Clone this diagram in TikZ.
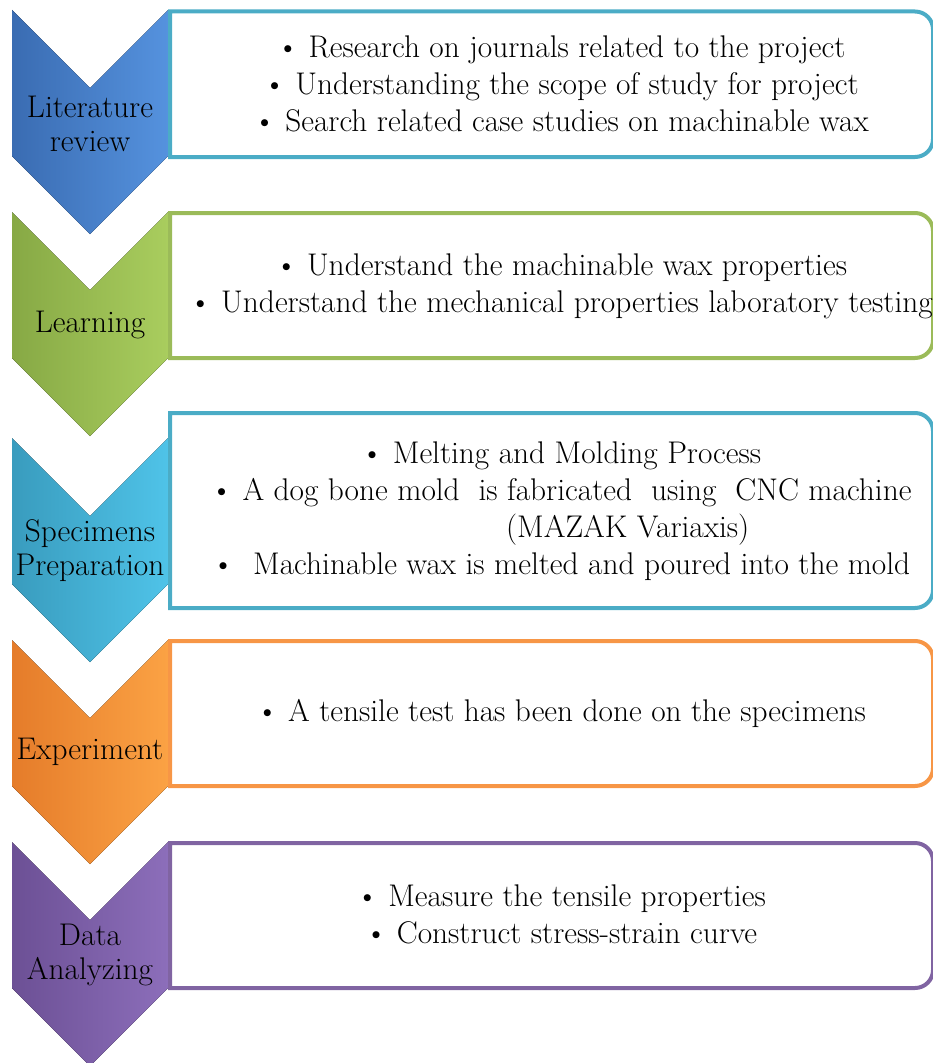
\documentclass[tikz,border=0pt]{standalone}
\usepackage{fontspec}
\usepackage{tikz}
\usetikzlibrary{positioning}

\definecolor{litL}{HTML}{3A6CB2}
\definecolor{litR}{HTML}{5592DE}
\definecolor{lrnL}{HTML}{87A945}
\definecolor{lrnR}{HTML}{A9CD5E}
\definecolor{speL}{HTML}{399CBE}
\definecolor{speR}{HTML}{4FC3E8}
\definecolor{expL}{HTML}{E57C2A}
\definecolor{expR}{HTML}{FBA244}
\definecolor{datL}{HTML}{6C5095}
\definecolor{datR}{HTML}{8C6EBA}
\definecolor{tealline}{HTML}{4BACC6}
\definecolor{greenline}{HTML}{9BBB59}
\definecolor{orangeline}{HTML}{F79646}
\definecolor{purpleline}{HTML}{8064A2}

\begin{document}
\begin{tikzpicture}[
  x=0.75pt, y=-0.75pt,
  chev/.style={draw=none},
  frame/.style={line width=3pt},
  stagename/.style={font=\fontsize{23.5}{25.5}\selectfont, align=center, text=black},
  items/.style={font=\fontsize{23.5}{27.75}\selectfont, align=center, text=black}
]
\useasboundingbox (0,0) rectangle (932,1063);

% chevrons
\fill[chev, left color=litL, right color=litR]
  (12,10) -- (90,88) -- (168,10) -- (168,156) -- (90,234) -- (12,156) -- cycle;
\fill[chev, left color=lrnL, right color=lrnR]
  (12,212) -- (90,290) -- (168,212) -- (168,358) -- (90,436) -- (12,358) -- cycle;
\fill[chev, left color=speL, right color=speR]
  (12,438) -- (90,516) -- (168,438) -- (168,584) -- (90,662) -- (12,584) -- cycle;
\fill[chev, left color=expL, right color=expR]
  (12,640) -- (90,718) -- (168,640) -- (168,786) -- (90,864) -- (12,786) -- cycle;
\fill[chev, left color=datL, right color=datR]
  (12,842) -- (90,920) -- (168,842) -- (168,988) -- (90,1066) -- (12,988) -- cycle;

% frames, rounded on the right only
\draw[frame, draw=tealline] (170,157) -- (170,11.5) -- (915,11.5)
  arc[start angle=-90, end angle=0, radius=18] -- (933,139)
  arc[start angle=0, end angle=90, radius=18] -- cycle;
\draw[frame, draw=greenline] (170,358) -- (170,213) -- (915,213)
  arc[start angle=-90, end angle=0, radius=18] -- (933,340)
  arc[start angle=0, end angle=90, radius=18] -- cycle;
\draw[frame, draw=tealline] (170,608) -- (170,413) -- (915,413)
  arc[start angle=-90, end angle=0, radius=18] -- (933,590)
  arc[start angle=0, end angle=90, radius=18] -- cycle;
\draw[frame, draw=orangeline] (170,786) -- (170,641) -- (915,641)
  arc[start angle=-90, end angle=0, radius=18] -- (933,768)
  arc[start angle=0, end angle=90, radius=18] -- cycle;
\draw[frame, draw=purpleline] (170,988) -- (170,843) -- (915,843)
  arc[start angle=-90, end angle=0, radius=18] -- (933,970)
  arc[start angle=0, end angle=90, radius=18] -- cycle;

% stage names
\node[stagename] (literature) at (90,124) {Literature\\review};
\node[stagename] (learning) at (90,325) {Learning};
\node[stagename] (specimens) at (90,551) {Specimens\\Preparation};
\node[stagename] (experiment) at (90,752) {Experiment};
\node[stagename] (analyzing) at (90,955) {Data\\Analyzing};

% stage contents
\node[items] (literatureitems) at (561,84) {%
  \textbullet\ Research on journals related to the project\\
  \textbullet\ Understanding the scope of study for project\\
  \textbullet\ Search related case studies on machinable wax};
\node[items] (learningitems) at (561,286) {%
  \textbullet\ Understand the machinable wax properties\\
  \textbullet\ Understand the mechanical properties laboratory testing};
\node[items] (specimensitems) at (561,511) {%
  \textbullet\ Melting and Molding Process\\
  \textbullet\ A dog bone mold\ \ is fabricated\ \ using\ \ CNC machine\\
  \hspace*{100pt}(MAZAK Variaxis)\\
  \textbullet\ \ Machinable wax is melted and poured into the mold};
\node[items] (experimentitems) at (561,713) {%
  \textbullet\ A tensile test has been done on the specimens};
\node[items] (analyzingitems) at (561,914) {%
  \textbullet\ Measure the tensile properties\\
  \textbullet\ Construct stress-strain curve};
\end{tikzpicture}
\end{document}
